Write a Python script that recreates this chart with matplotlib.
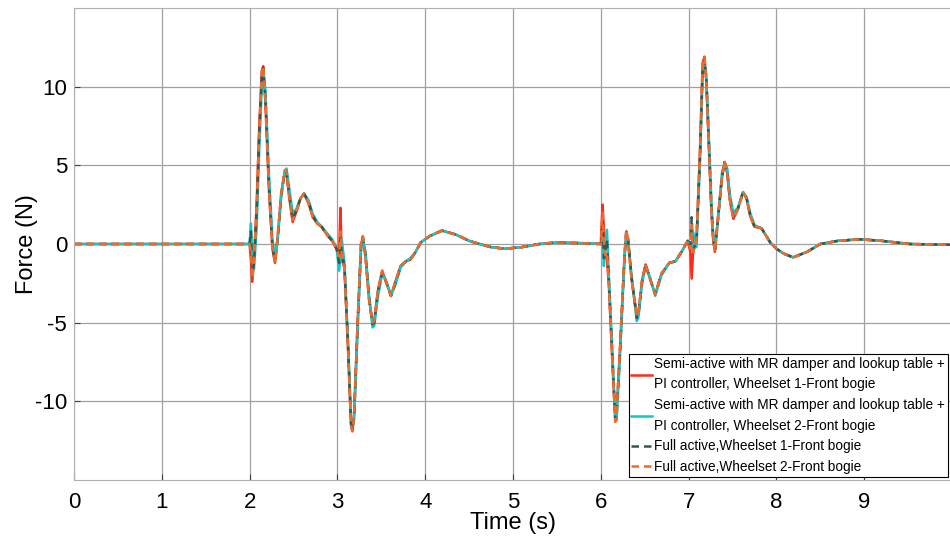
import numpy as np
import matplotlib
matplotlib.use("Agg")
import matplotlib.pyplot as plt

plt.rcParams['font.family'] = ['Liberation Sans', 'DejaVu Sans']
plt.rcParams['axes.unicode_minus'] = False

# time axis (s) shared by all four records
time_s = [0.0, 2.0, 2.015, 2.03, 2.05, 2.08, 2.11, 2.14, 2.155, 2.18, 2.22, 2.26, 2.29,
          2.32, 2.36, 2.40, 2.42, 2.45, 2.49, 2.53, 2.58, 2.62, 2.67, 2.72, 2.77, 2.82,
          2.88, 2.94, 2.99, 3.02, 3.035, 3.05, 3.08, 3.12, 3.155, 3.17, 3.19, 3.23, 3.27,
          3.29, 3.32, 3.36, 3.40, 3.42, 3.46, 3.51, 3.56, 3.61, 3.66, 3.72, 3.78, 3.83,
          3.88, 3.95, 4.05, 4.19, 4.35, 4.50, 4.62, 4.75, 4.91, 5.10, 5.30, 5.50, 5.80,
          6.0, 6.02, 6.035, 6.05, 6.07, 6.09, 6.13, 6.165, 6.18, 6.22, 6.27, 6.29, 6.31,
          6.35, 6.41, 6.43, 6.47, 6.51, 6.56, 6.62, 6.69, 6.78, 6.85, 6.92, 6.99, 7.02,
          7.035, 7.05, 7.09, 7.13, 7.16, 7.18, 7.20, 7.22, 7.26, 7.28, 7.30, 7.34, 7.38,
          7.41, 7.44, 7.47, 7.51, 7.56, 7.62, 7.66, 7.70, 7.75, 7.83, 7.93, 8.00, 8.08,
          8.19, 8.35, 8.50, 8.70, 8.95, 9.20, 9.52, 9.98]

semi_w1 = [0, 0, -1.0, -2.4, -1.0, 2.5, 7.5, 11.0, 11.3, 9.0, 3.5, -0.3, -1.2,
           0.5, 3.2, 4.6, 4.5, 3.0, 1.4, 2.0, 2.9, 3.2, 2.6, 1.7, 1.3, 1.1,
           0.6, 0.2, -0.3, -0.5, 2.3, -1.0, -1.5, -6.5, -11.5, -11.9, -10.8, -5.0, 0.0,
           0.4, -0.8, -3.5, -5.0, -4.9, -3.0, -1.7, -2.5, -3.3, -2.4, -1.4, -1.1, -1.0,
           -0.6, 0.1, 0.5, 0.85, 0.6, 0.2, 0.0, -0.2, -0.3, -0.2, 0.0, 0.1, 0.05,
           0.0, 2.5, 1.0, -0.8, -1.0, -2.4, -7.3, -11.3, -10.6, -6.5, -0.7, 0.7, 0.2,
           -2.2, -4.6, -4.3, -2.3, -1.3, -2.2, -3.2, -1.9, -1.2, -1.1, -0.5, 0.2, -0.5,
           -2.2, -0.6, 0.3, 6.0, 11.5, 11.9, 10.5, 7.7, 2.0, 0.3, -0.5, 2.0, 4.2,
           5.2, 4.5, 2.8, 1.6, 2.2, 3.3, 2.9, 1.8, 1.1, 1.0, 0.1, -0.3, -0.6,
           -0.85, -0.5, 0.0, 0.2, 0.3, 0.2, 0.0, -0.05]

semi_w2 = [0, 0, 1.3, -0.5, -1.6, 1.0, 6.0, 10.2, 11.0, 9.8, 4.5, 0.3, -0.8,
           0.2, 3.0, 4.6, 4.8, 3.6, 2.0, 2.2, 2.9, 3.2, 2.8, 1.9, 1.4, 1.1,
           0.7, 0.3, -0.2, -1.7, -0.8, 0.3, -1.2, -6.0, -11.0, -11.6, -11.2, -5.5, -0.3,
           0.3, -0.5, -3.2, -5.3, -5.2, -3.4, -1.9, -2.4, -3.3, -2.6, -1.5, -1.1, -0.9,
           -0.6, 0.1, 0.5, 0.85, 0.6, 0.2, 0.0, -0.2, -0.3, -0.2, 0.0, 0.1, 0.05,
           0.0, 0.3, -1.4, -0.2, 0.9, -1.8, -6.6, -11.0, -11.2, -7.0, -1.0, 0.6, 0.4,
           -2.0, -4.9, -4.6, -2.5, -1.4, -2.1, -3.3, -2.0, -1.2, -1.1, -0.5, 0.2, 0.0,
           -0.3, 0.8, -0.2, 5.2, 10.8, 11.3, 10.8, 8.3, 2.6, 0.6, -0.3, 1.8, 4.5,
           5.2, 4.8, 3.1, 2.0, 2.3, 3.3, 3.0, 2.0, 1.2, 1.0, 0.1, -0.3, -0.6,
           -0.85, -0.5, 0.0, 0.2, 0.3, 0.2, 0.0, -0.05]

full_w1 = [0, 0, 0.8, -2.0, -1.2, 2.0, 7.0, 10.8, 11.2, 9.3, 3.8, -0.2, -1.1,
           0.4, 3.1, 4.6, 4.6, 3.2, 1.6, 2.1, 2.9, 3.2, 2.7, 1.8, 1.3, 1.1,
           0.6, 0.2, -0.3, -1.2, 0.3, -0.6, -1.4, -6.3, -11.4, -11.8, -11.0, -5.2, 0.0,
           0.45, -0.7, -3.4, -5.1, -5.0, -3.1, -1.8, -2.5, -3.3, -2.5, -1.4, -1.1, -1.0,
           -0.6, 0.1, 0.5, 0.85, 0.6, 0.2, 0.0, -0.2, -0.3, -0.2, 0.0, 0.1, 0.05,
           0.0, 1.5, -0.9, -0.5, 0.3, -2.1, -7.0, -11.2, -10.9, -6.7, -0.8, 0.8, 0.3,
           -2.1, -4.7, -4.4, -2.4, -1.3, -2.2, -3.2, -1.9, -1.2, -1.1, -0.5, 0.2, -0.2,
           1.7, -0.4, 0.2, 5.6, 11.2, 11.7, 10.7, 8.0, 2.3, 0.4, -0.5, 1.9, 4.3,
           5.2, 4.6, 2.9, 1.7, 2.2, 3.3, 2.9, 1.9, 1.1, 1.0, 0.1, -0.3, -0.6,
           -0.85, -0.5, 0.0, 0.2, 0.3, 0.2, 0.0, -0.05]

full_w2 = [0, 0, -0.5, -2.2, -1.0, 2.2, 7.2, 11.0, 11.3, 9.1, 3.6, -0.3, -1.2,
           0.5, 3.2, 4.7, 4.6, 3.1, 1.5, 2.0, 2.9, 3.2, 2.6, 1.7, 1.3, 1.1,
           0.6, 0.2, -0.3, -0.8, 0.8, -0.8, -1.5, -6.5, -11.5, -11.9, -10.9, -5.0, 0.1,
           0.5, -0.8, -3.5, -5.0, -4.9, -3.0, -1.7, -2.5, -3.3, -2.4, -1.4, -1.1, -1.0,
           -0.6, 0.1, 0.5, 0.85, 0.6, 0.2, 0.0, -0.2, -0.3, -0.2, 0.0, 0.1, 0.05,
           0.0, 2.0, 0.2, -0.7, -0.5, -2.3, -7.2, -11.3, -10.7, -6.5, -0.7, 0.9, 0.3,
           -2.2, -4.6, -4.3, -2.3, -1.3, -2.2, -3.2, -1.9, -1.2, -1.1, -0.5, 0.2, -0.3,
           1.2, -0.5, 0.3, 5.9, 11.4, 11.9, 10.6, 7.8, 2.1, 0.3, -0.5, 2.0, 4.2,
           5.3, 4.5, 2.8, 1.6, 2.2, 3.3, 2.9, 1.8, 1.1, 1.0, 0.1, -0.3, -0.6,
           -0.85, -0.5, 0.0, 0.2, 0.3, 0.2, 0.0, -0.05]

labels = ['Semi-active with MR damper and lookup table +\nPI controller, Wheelset 1-Front bogie',
          'Semi-active with MR damper and lookup table +\nPI controller, Wheelset 2-Front bogie',
          'Full active,Wheelset 1-Front bogie',
          'Full active,Wheelset 2-Front bogie']

fig = plt.figure(figsize=(9.5, 5.41), dpi=100)
ax = fig.add_axes([74 / 950, 61 / 541, 878 / 950, 472 / 541])

ax.plot(time_s, semi_w1, color='#ff2a1a', lw=1.8, label=labels[0])
ax.plot(time_s, semi_w2, color='#10c8c8', lw=1.8, label=labels[1])
ax.plot(time_s, full_w1, color='#2e5a52', lw=1.8, ls=(0, (3, 2)), label=labels[2])
ax.plot(time_s, full_w2, color='#f06a2a', lw=1.8, ls=(0, (3, 2)), label=labels[3])

ax.set_xlim(0, 10)
ax.set_ylim(-15, 15)
ax.set_xticks(range(0, 10))
ax.set_yticks([-10, -5, 0, 5, 10])
ax.grid(True, color='#a0a0a0', lw=0.9)
ax.set_axisbelow(True)
for s in ax.spines.values():
    s.set_color('#b0b0b0')
ax.spines['right'].set_visible(False)
ax.tick_params(direction='in', length=4, color='#404040', labelsize=16)
ax.tick_params(axis='x', pad=9)
ax.tick_params(axis='y', pad=5)

ax.set_ylabel('Force (N)', fontsize=17)
ax.yaxis.set_label_coords(-0.041, 0.5)
ax.set_xlabel('Time (s)', fontsize=17)
ax.xaxis.set_label_coords(0.5, -0.068)

leg = ax.legend(loc='lower right', bbox_to_anchor=(0.9954, 0.0064), fontsize=9.8,
                frameon=True, fancybox=False, framealpha=1, edgecolor='black',
                handlelength=1.5, handletextpad=0.2, borderpad=0.2, labelspacing=0.5,
                borderaxespad=0)
leg.get_frame().set_linewidth(0.8)
for txt in leg.get_texts():
    txt.set_linespacing(1.6)

fig.savefig('out.png', dpi=100)
